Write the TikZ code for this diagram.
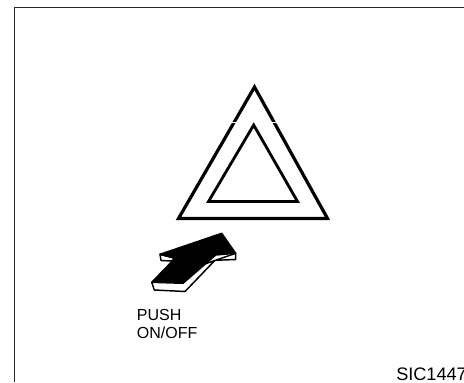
\documentclass[tikz,border=0pt]{standalone}
\usepackage{fontspec}
\setmainfont{Liberation Sans}
\tikzset{
  frameline/.style={line width=1.1pt,black!85},
  tri/.style={draw=black,line width=2.4pt,line join=miter,fill=none},
  arrowpart/.style={draw=black,line width=1.1pt,line join=round},
  lbl/.style={inner sep=0pt,anchor=base west,font=\fontsize{12pt}{14pt}\selectfont}
}
\begin{document}
\begin{tikzpicture}[x=0.75pt,y=-0.75pt]
\useasboundingbox (0,0) rectangle (464,382);
\clip (0,0) rectangle (464,382);
\coordinate (fb) at (14.5,382);
\coordinate (fc) at (14.5,7.5);
\coordinate (fr) at (464,7.5);
\draw[frameline] (fb) -- (fc) -- (fr);
% warning triangles
\coordinate (oa) at (254.5,87);
\coordinate (ol) at (178.5,218.5);
\coordinate (or) at (327.5,218.5);
\coordinate (ia) at (253.7,125);
\coordinate (il) at (208.5,201.5);
\coordinate (ir) at (297.5,201.5);
\draw[tri] (oa) -- (or) -- (ol) -- cycle;
\draw[tri,line width=2.1pt] (ia) -- (ir) -- (il) -- cycle;
\coordinate (g1a) at (230,122.3);
\coordinate (g1b) at (236,122.3);
\coordinate (g2a) at (272,122.3);
\coordinate (g2b) at (278,122.3);
\draw[white,line width=0.8pt] (g1a) -- (g1b);
\draw[white,line width=0.8pt] (g2a) -- (g2b);
% push arrow
\draw[arrowpart,fill=white] (160,254.3) -- (161,260.5) -- (171.7,261) -- (175,258.3) -- cycle;
\draw[arrowpart,fill=white] (235.7,253.3) -- (235.7,259.5) -- (215,260.3) -- (185,291.5) -- (154.3,290) -- (151.7,282.3) -- cycle;
\draw[arrowpart,fill=black] (221.7,233.3) -- (235.7,253.3) -- (215.7,255) -- (183,283.3) -- (151.7,282.3) -- (175,258.3) -- (160,254.3) -- cycle;
% labels
\node[lbl] (push) at (136.7,320) {PUSH};
\node[lbl] (onoff) at (136.7,338) {ON/OFF};
\node[lbl,font=\fontsize{13.6pt}{16pt}\selectfont] (sic) at (396,380) {SIC1447};
\end{tikzpicture}
\end{document}
